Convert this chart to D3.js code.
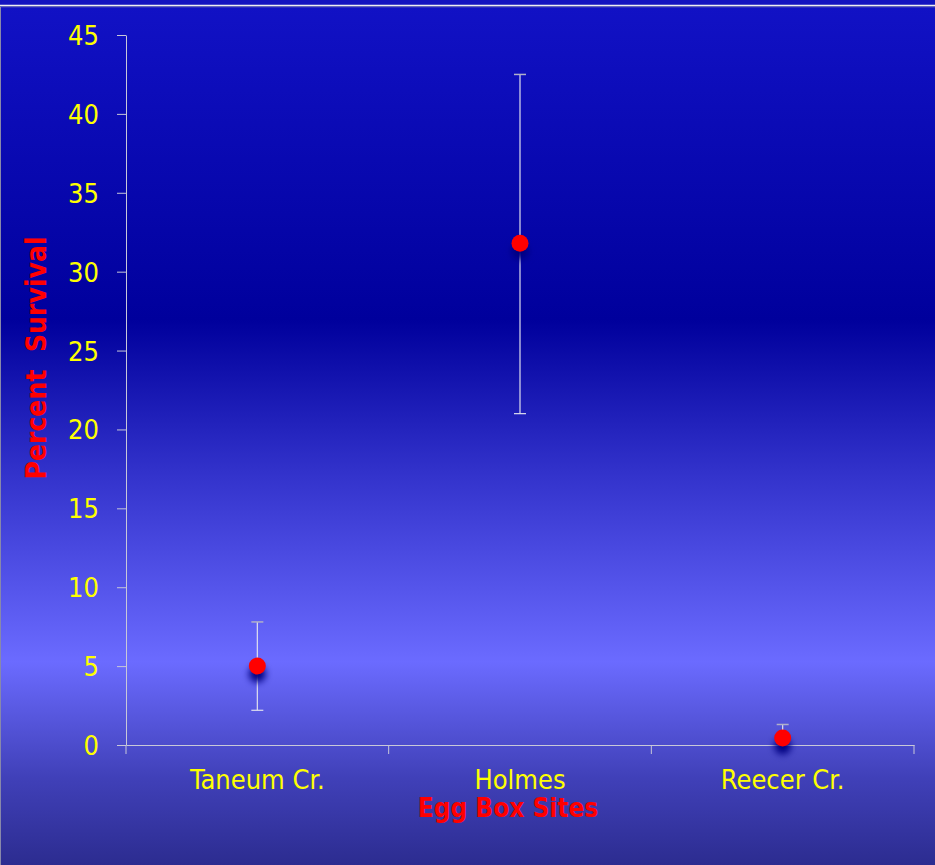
<!DOCTYPE html>
<html><head><meta charset="utf-8">
<script src="https://cdn.jsdelivr.net/npm/d3@7"></script>
<style>html,body{margin:0;padding:0;background:#1212c4;overflow:hidden}</style>
</head><body>
<script>
const categories = ["Taneum Cr.", "Holmes", "Reecer Cr."];
const meanValues = [5.0, 31.8, 0.45];
const upperValues = [7.8, 42.5, 1.3];
const lowerValues = [2.2, 21.0, 0.0];
const yTicks = [0, 5, 10, 15, 20, 25, 30, 35, 40, 45];

const W = 935, H = 865;
const m = {left: 126, right: 21, top: 35, bottom: 120};
const FONT = "'DejaVu Sans Condensed', 'DejaVu Sans', sans-serif";
const svg = d3.select("body").append("svg").attr("width", W).attr("height", H);
const defs = svg.append("defs");
const g1 = defs.append("linearGradient").attr("id","bg").attr("x1",0).attr("y1",0).attr("x2",0).attr("y2",1);
[[0,"#1212c6"],[0.37,"#00009c"],[0.55,"#3333cc"],[0.765,"#6b6bff"],[0.9,"#4040b8"],[1,"#2c2c90"]]
  .forEach(([o,c]) => g1.append("stop").attr("offset",o).attr("stop-color",c));
const blur = defs.append("filter").attr("id","sh").attr("x","-100%").attr("y","-100%").attr("width","300%").attr("height","300%");
blur.append("feGaussianBlur").attr("stdDeviation",3.5);

svg.append("rect").attr("width",W).attr("height",H).attr("fill","url(#bg)");
svg.append("rect").attr("x",0).attr("y",0).attr("width",W).attr("height",5).attr("fill","#1414c0");
svg.append("line").attr("x1",0).attr("x2",W).attr("y1",5.5).attr("y2",5.5).attr("stroke","#f0f0f0").attr("stroke-width",1.5);
svg.append("line").attr("x1",0).attr("x2",W).attr("y1",6.8).attr("y2",6.8).attr("stroke","#8080b0").attr("stroke-width",0.8);
svg.append("line").attr("x1",0.5).attr("x2",0.5).attr("y1",7).attr("y2",H).attr("stroke","#8888aa").attr("stroke-width",1);

const x = d3.scaleBand().domain(categories).range([m.left, W - m.right]);
const y = d3.scaleLinear().domain([0,45]).range([H - m.bottom, m.top]);

// y axis
const ya = svg.append("g").attr("transform",`translate(${m.left},0)`)
  .call(d3.axisLeft(y).tickValues(yTicks).tickSize(9).tickPadding(18).tickSizeOuter(0));
ya.select(".domain").attr("stroke","#c8c8d8");
ya.selectAll(".tick line").attr("stroke","#c8c8d8");
ya.selectAll("text").attr("fill","#ffff00").attr("font-family",FONT).attr("font-size",27).attr("dy","0.35em");

// x axis
const xa = svg.append("g").attr("transform",`translate(0,${H - m.bottom})`)
  .call(d3.axisBottom(x).tickSize(0));
xa.select(".domain").attr("stroke","#c8c8d8");
xa.selectAll("text").attr("fill","#ffff00").attr("font-family",FONT).attr("font-size",27).attr("y",44).attr("dy",0);
const bounds = categories.map(c => x(c)).concat([x(categories[categories.length-1]) + x.bandwidth()]);
xa.selectAll(".bt").data(bounds).join("line").attr("class","bt")
  .attr("x1",d=>d).attr("x2",d=>d).attr("y1",0).attr("y2",9).attr("stroke","#c8c8d8");

// titles
svg.append("text").attr("transform",`translate(46,358) rotate(-90)`).attr("text-anchor","middle")
  .attr("fill","#ff0000").attr("font-family",FONT).attr("font-weight","bold").attr("font-size",28)
  .attr("xml:space","preserve").text("Percent  Survival");
svg.append("text").attr("x",508).attr("y",817).attr("text-anchor","middle")
  .attr("fill","#ff0000").attr("font-family",FONT).attr("font-weight","bold").attr("font-size",26)
  .text("Egg Box Sites");

// error bars & points
const data = categories.map((c,i) => ({c, v: meanValues[i], hi: upperValues[i], lo: lowerValues[i]}));
const cx = d => x(d.c) + x.bandwidth()/2;
const eb = svg.append("g");
data.forEach(d => {
  eb.append("line").attr("x1",cx(d)).attr("x2",cx(d)).attr("y1",y(d.hi)).attr("y2",y(d.lo)).attr("stroke","#e0e0ee").attr("stroke-width",1.2);
  eb.append("line").attr("x1",cx(d)-6).attr("x2",cx(d)+6).attr("y1",y(d.hi)).attr("y2",y(d.hi)).attr("stroke","#b0b0c8").attr("stroke-width",1.5);
  if (d.lo > 0) eb.append("line").attr("x1",cx(d)-6).attr("x2",cx(d)+6).attr("y1",y(d.lo)).attr("y2",y(d.lo)).attr("stroke","#e0e0ee").attr("stroke-width",1.2);
});
svg.append("g").selectAll("circle").data(data).join("circle")
  .attr("cx",cx).attr("cy",d=>y(d.v)+8).attr("r",8.5).attr("fill","#000080").attr("filter","url(#sh)");
svg.append("g").selectAll("circle").data(data).join("circle")
  .attr("cx",cx).attr("cy",d=>y(d.v)).attr("r",8.5).attr("fill","#ff0000");
</script>
</body></html>
